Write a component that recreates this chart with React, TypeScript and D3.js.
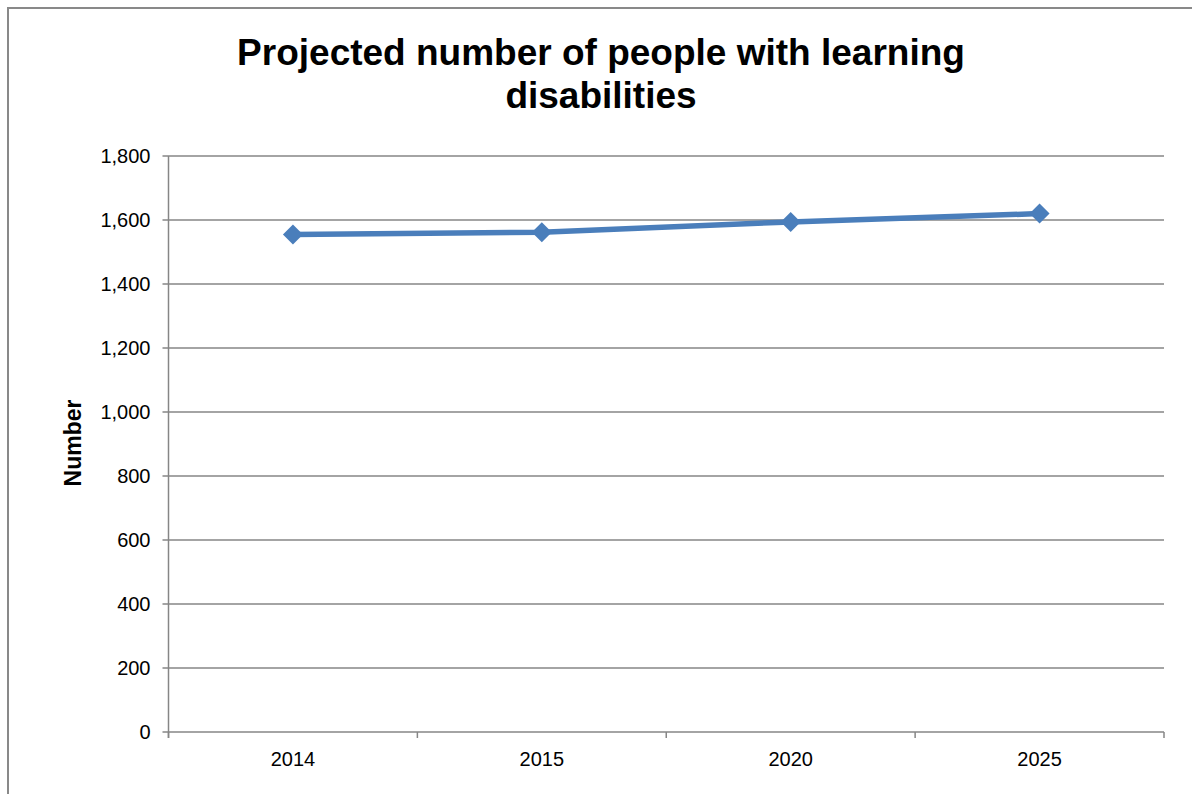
import React from "react";
import * as d3 from "d3";

const categories = ["2014", "2015", "2020", "2025"];
const values = [1555, 1562, 1594, 1620];
const yTicks = [0, 200, 400, 600, 800, 1000, 1200, 1400, 1600, 1800];
const titleLines = ["Projected number of people with learning", "disabilities"];
const yTitle = "Number";

export default function App() {
  const W = 1192, H = 794;
  const left = 168.5, right = 1164, top = 156, bottom = 732;
  const x = d3.scaleBand<string>().domain(categories).range([left, right]).padding(0);
  const y = d3.scaleLinear().domain([0, 1800]).range([bottom, top]);
  const fmt = d3.format(",");
  const cx = (c: string) => (x(c) as number) + x.bandwidth() / 2;
  const line = d3.line<number>().x((_, i) => cx(categories[i])).y((v) => y(v));
  const grid = "#868686";
  const blue = "#4a7ebb";
  const boundaries = [...categories.map((c) => x(c) as number), right];
  return (
    <svg width={W} height={H} style={{ position: "absolute", left: 0, top: 0, background: "#fff" }}
      fontFamily="Liberation Sans, Arial, sans-serif">
      <rect x={8} y={8} width={1300} height={900} fill="#fff" stroke="#898989" strokeWidth={2} />
      {titleLines.map((t, i) => (
        <text key={i} x={601} y={65 + i * 43} textAnchor="middle" fontSize={37} fontWeight="bold" fill="#000">{t}</text>
      ))}
      {yTicks.map((t) => (
        <g key={t}>
          <line x1={left - 6} x2={right} y1={y(t)} y2={y(t)} stroke={grid} strokeWidth={1.5} />
          <text x={left - 18} y={y(t) + 7} textAnchor="end" fontSize={20} fill="#000">{fmt(t)}</text>
        </g>
      ))}
      <line x1={left} x2={left} y1={top} y2={bottom + 6} stroke={grid} strokeWidth={1.5} />
      {boundaries.map((b, i) => (
        <line key={i} x1={b} x2={b} y1={bottom} y2={bottom + 6} stroke={grid} strokeWidth={1.5} />
      ))}
      {categories.map((c) => (
        <text key={c} x={cx(c)} y={766} textAnchor="middle" fontSize={20} fill="#000">{c}</text>
      ))}
      <text transform={`translate(81,443) rotate(-90)`} textAnchor="middle" fontSize={23} fontWeight="bold" fill="#000">{yTitle}</text>
      <path d={line(values) || ""} fill="none" stroke={blue} strokeWidth={5.5} strokeLinejoin="round" />
      {values.map((v, i) => {
        const px = cx(categories[i]), py = y(v), r = 10;
        return (
          <path key={i} d={`M${px},${py - r}L${px + r},${py}L${px},${py + r}L${px - r},${py}Z`} fill={blue} />
        );
      })}
    </svg>
  );
}
